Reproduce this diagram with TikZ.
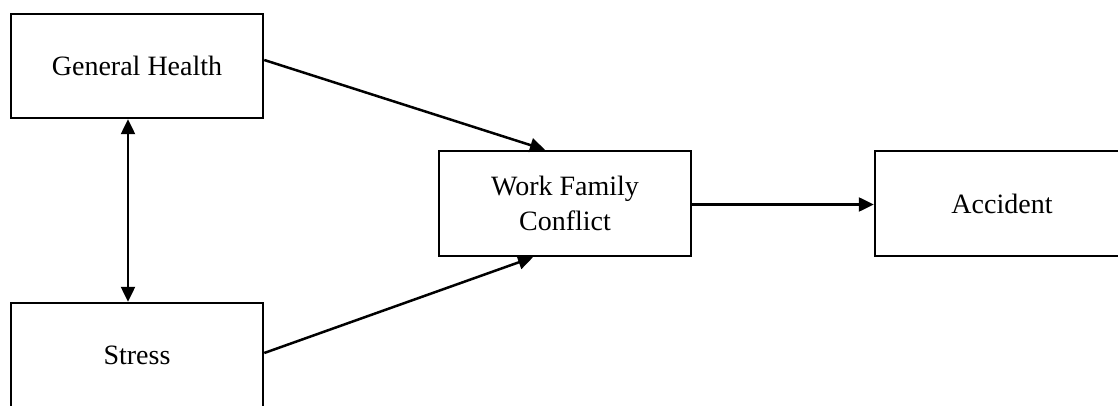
\documentclass[tikz,border=0pt]{standalone}
\usepackage{fontspec}
\setmainfont{Liberation Serif}
\usetikzlibrary{arrows.meta}
\tikzset{
  box/.style={draw=black, line width=2.5pt, minimum width=252pt, minimum height=104pt, align=center, inner sep=0pt, font=\fontsize{28}{35}\selectfont},
  conn/.style={line width=2.5pt, -{Triangle[length=15pt,width=14pt]}},
  dconn/.style={line width=2.5pt, {Triangle[length=15pt,width=14pt]}-{Triangle[length=15pt,width=14pt]}}
}
\begin{document}
\begin{tikzpicture}[x=1pt,y=-1pt]
\useasboundingbox (0,0) rectangle (1118,406);
\clip (0,0) rectangle (1118,406);
\node[box] (gh) at (137,66) {General Health};
\node[box] (st) at (137,355) {Stress};
\node[box, minimum height=105pt] (wfc) at (565,203.5) {Work Family\\Conflict};
\node[box, minimum width=254pt, minimum height=105pt] (acc) at (1002,203.5) {Accident};
\draw[conn] ([yshift=6pt]gh.east) -- ([xshift=-20pt]wfc.north);
\draw[conn] ([yshift=2pt]st.east) -- ([xshift=-32pt]wfc.south);
\draw[dconn] ([xshift=-9pt]gh.south) -- ([xshift=-9pt]st.north);
\draw[conn] ([yshift=-1pt]wfc.east) -- ([yshift=-1pt]acc.west);
\end{tikzpicture}
\end{document}
